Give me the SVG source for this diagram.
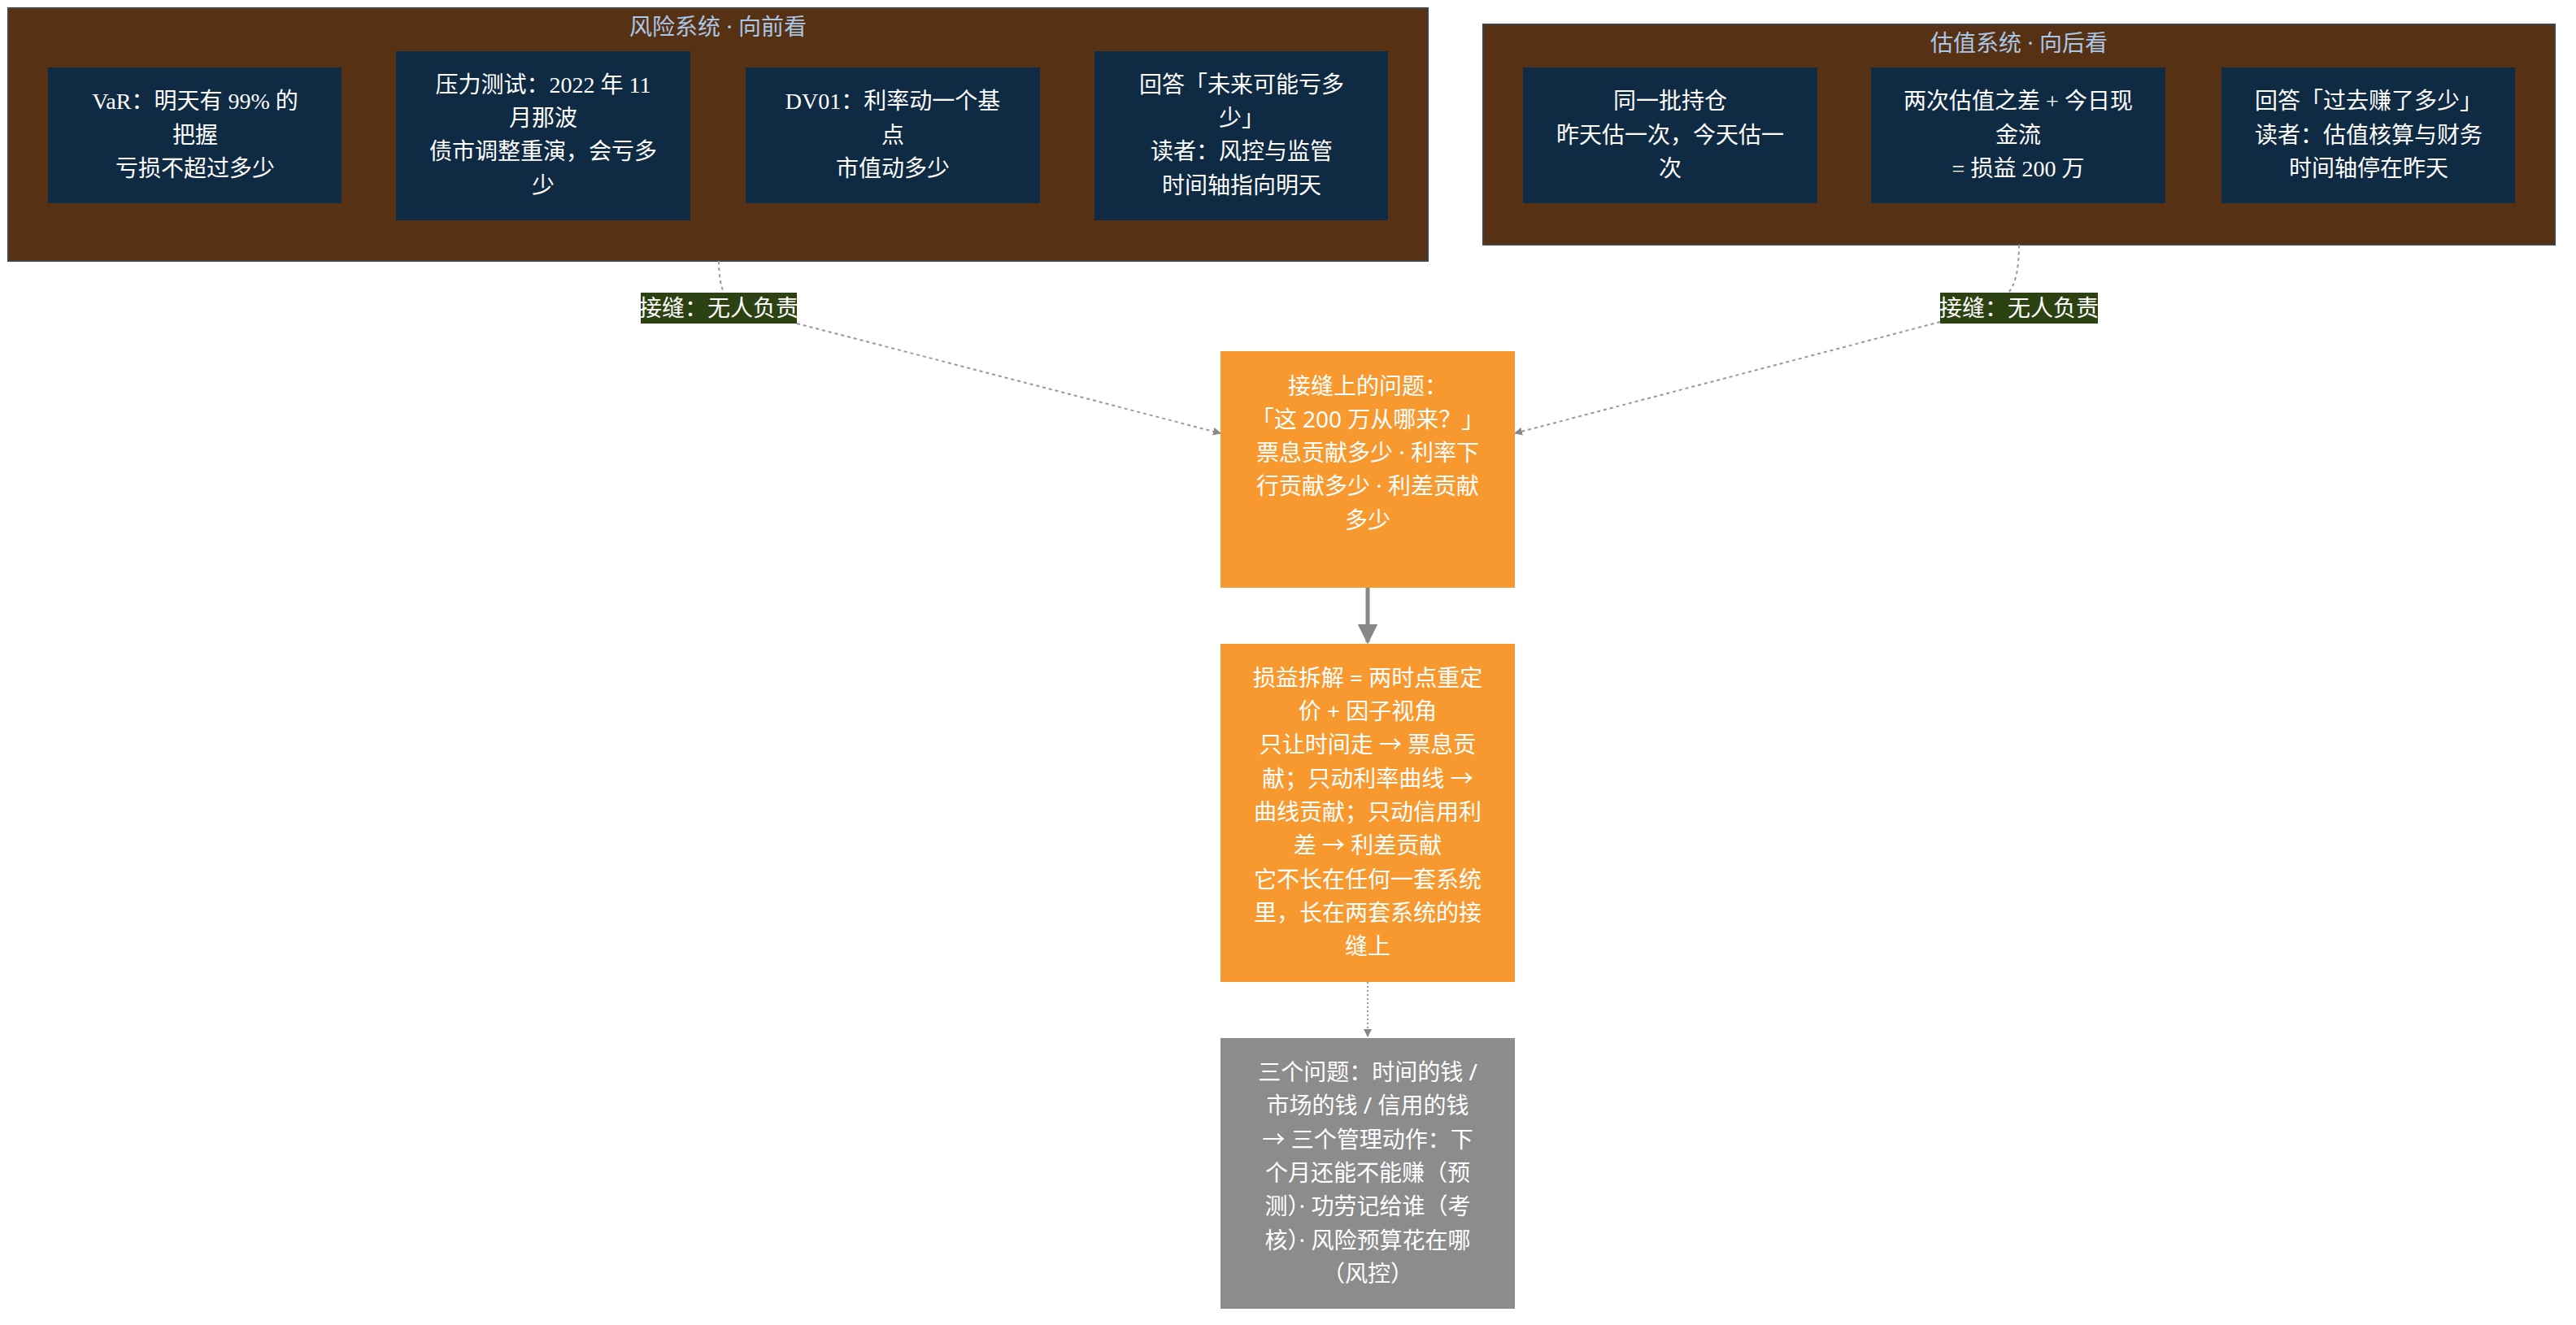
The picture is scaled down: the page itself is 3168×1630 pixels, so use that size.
<svg xmlns="http://www.w3.org/2000/svg" width="3168" height="1630" viewBox="0 0 3168 1630">
<defs>
<style>
.cl{fill:#573114;stroke:#444;stroke-width:2}
.ct{fill:#a9c7e6;font-family:"Noto Sans","Noto Sans CJK SC",sans-serif;font-size:28px;text-anchor:middle}
.dn{fill:#0f2a43}
.dt{fill:#fff;font-family:"Liberation Serif","Noto Sans CJK SC",serif;font-size:28px;text-anchor:middle}
.on{fill:#f7992f}
.gn{fill:#8c8c8c}
.st{fill:#fff;font-family:"Noto Sans","Noto Sans CJK SC",sans-serif;font-size:28px;text-anchor:middle}
.lb{fill:#2d4212}
.e{fill:none;stroke:#999;stroke-width:2}
</style>
<marker id="a" viewBox="0 0 10 10" refX="9" refY="5" markerWidth="5" markerHeight="5" orient="auto"><path d="M0,0L10,5L0,10z" fill="#888"/></marker>
</defs>
<rect width="3168" height="1630" fill="#fff"/>
<g id="risk">
<rect class="cl" x="10" y="10" width="1746" height="311"/>
<text class="ct" x="883" y="43">风险系统 · 向前看</text>
</g>
<g id="val">
<rect class="cl" x="1824" y="30" width="1318" height="271"/>
<text class="ct" x="2483" y="63">估值系统 · 向后看</text>
</g>
<g id="n1"><rect class="dn" x="59" y="83" width="361" height="167"/>
<text class="dt" x="240" y="134">VaR：明天有 99% 的</text><text class="dt" x="240" y="176">把握</text><text class="dt" x="240" y="217">亏损不超过多少</text></g>
<g id="n2"><rect class="dn" x="487" y="63" width="362" height="208"/>
<text class="dt" x="668" y="114">压力测试：2022 年 11</text><text class="dt" x="668" y="155">月那波</text><text class="dt" x="668" y="196">债市调整重演，会亏多</text><text class="dt" x="668" y="238">少</text></g>
<g id="n3"><rect class="dn" x="917" y="83" width="362" height="167"/>
<text class="dt" x="1098" y="134">DV01：利率动一个基</text><text class="dt" x="1098" y="176">点</text><text class="dt" x="1098" y="217">市值动多少</text></g>
<g id="n4"><rect class="dn" x="1346" y="63" width="361" height="208"/>
<text class="dt" x="1527" y="114">回答「未来可能亏多</text><text class="dt" x="1527" y="155">少」</text><text class="dt" x="1527" y="196">读者：风控与监管</text><text class="dt" x="1527" y="238">时间轴指向明天</text></g>
<g id="n5"><rect class="dn" x="1873" y="83" width="362" height="167"/>
<text class="dt" x="2054" y="134">同一批持仓</text><text class="dt" x="2054" y="176">昨天估一次，今天估一</text><text class="dt" x="2054" y="217">次</text></g>
<g id="n6"><rect class="dn" x="2301" y="83" width="362" height="167"/>
<text class="dt" x="2482" y="134">两次估值之差 + 今日现</text><text class="dt" x="2482" y="176">金流</text><text class="dt" x="2482" y="217">= 损益 200 万</text></g>
<g id="n7"><rect class="dn" x="2732" y="83" width="361" height="167"/>
<text class="dt" x="2913" y="134">回答「过去赚了多少」</text><text class="dt" x="2913" y="176">读者：估值核算与财务</text><text class="dt" x="2913" y="217">时间轴停在昨天</text></g>
<g id="edges">
<path class="e" d="M884,321 Q884,345 890,360" stroke-dasharray="4,4"/>
<path class="e" d="M980,398 L1501,533" stroke-dasharray="4,4" marker-end="url(#a)"/>
<path class="e" d="M2483,301 Q2483,345 2470,360" stroke-dasharray="4,4"/>
<path class="e" d="M2386,396 L1863,533" stroke-dasharray="4,4" marker-end="url(#a)"/>
<path d="M1682,723 L1682,790" stroke="#888" stroke-width="5" fill="none" marker-end="url(#a)"/>
<path class="e" d="M1682,1208 L1682,1275" stroke-dasharray="2,3" marker-end="url(#a)"/>
</g>
<g id="l1"><rect class="lb" x="788" y="360" width="192" height="38"/><text class="st" x="884" y="389">接缝：无人负责</text></g>
<g id="l2"><rect class="lb" x="2386" y="360" width="194" height="38"/><text class="st" x="2483" y="389">接缝：无人负责</text></g>
<g id="o1"><rect class="on" x="1501" y="432" width="362" height="291"/>
<text class="st" x="1682" y="485">接缝上的问题：</text><text class="st" x="1682" y="526">「这 200 万从哪来？」</text><text class="st" x="1682" y="567">票息贡献多少 · 利率下</text><text class="st" x="1682" y="608">行贡献多少 · 利差贡献</text><text class="st" x="1682" y="650">多少</text></g>
<g id="o2"><rect class="on" x="1501" y="792" width="362" height="416"/>
<text class="st" x="1682" y="844">损益拆解 = 两时点重定</text><text class="st" x="1682" y="885">价 + 因子视角</text><text class="st" x="1682" y="926">只让时间走 → 票息贡</text><text class="st" x="1682" y="968">献；只动利率曲线 →</text><text class="st" x="1682" y="1009">曲线贡献；只动信用利</text><text class="st" x="1682" y="1050">差 → 利差贡献</text><text class="st" x="1682" y="1092">它不长在任何一套系统</text><text class="st" x="1682" y="1133">里，长在两套系统的接</text><text class="st" x="1682" y="1174">缝上</text></g>
<g id="g1"><rect class="gn" x="1501" y="1277" width="362" height="333"/>
<text class="st" x="1682" y="1329">三个问题：时间的钱 /</text><text class="st" x="1682" y="1370">市场的钱 / 信用的钱</text><text class="st" x="1682" y="1412">→ 三个管理动作：下</text><text class="st" x="1682" y="1453">个月还能不能赚（预</text><text class="st" x="1682" y="1494">测）· 功劳记给谁（考</text><text class="st" x="1682" y="1536">核）· 风险预算花在哪</text><text class="st" x="1682" y="1577">（风控）</text></g>
</svg>
